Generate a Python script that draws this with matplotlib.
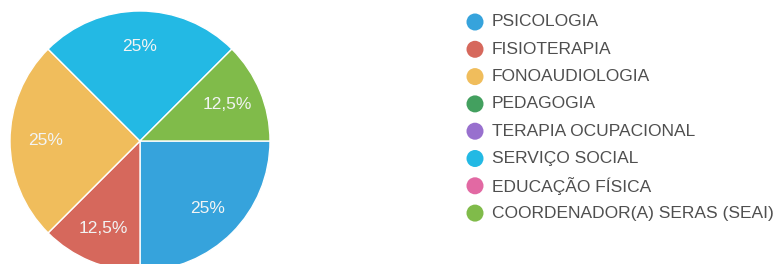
import matplotlib
matplotlib.use("Agg")
import matplotlib.pyplot as plt

plt.rcParams["font.family"] = ["Liberation Sans", "DejaVu Sans"]

labels = ["PSICOLOGIA", "FISIOTERAPIA", "FONOAUDIOLOGIA", "PEDAGOGIA",
          "TERAPIA OCUPACIONAL", "SERVIÇO SOCIAL", "EDUCAÇÃO FÍSICA",
          "COORDENADOR(A) SERAS (SEAI)"]
counts = [2, 1, 2, 0, 0, 2, 0, 1]
colors = ["#36a3dc", "#d6685c", "#f0bd5c", "#43a05f",
          "#9870ce", "#23b9e4", "#e269a3", "#80bb4a"]

W, H = 775, 264
fig = plt.figure(figsize=(W / 100, H / 100), dpi=100)

# pie axes: centre ~ (140, 141) px, radius ~130 px (runs off the bottom)
cx, cy, r = 140, 141, 130
ax = fig.add_axes([(cx - r) / W, (H - cy - r) / H, 2 * r / W, 2 * r / H])

nz = [i for i, c in enumerate(counts) if c > 0]
wedges, texts, autotexts = ax.pie(
    [counts[i] for i in nz], colors=[colors[i] for i in nz],
    startangle=0, counterclock=False, radius=1,
    autopct=lambda p: f"{p:.1f}".rstrip("0").rstrip(".").replace(".", ",") + "%",
    pctdistance=0.73,
    wedgeprops=dict(edgecolor="white", linewidth=1),
    textprops=dict(color="#f2f4f4", fontsize=12.5))
ax.set_xlim(-1, 1)
ax.set_ylim(-1, 1)
ax.axis("off")
for w in wedges:
    w.set_clip_on(False)

# legend drawn in pixel coordinates
lg = fig.add_axes([0, 0, 1, 1])
lg.set_xlim(0, W)
lg.set_ylim(H, 0)
lg.axis("off")
y0, dy = 22, 27.3
for i, (lab, col) in enumerate(zip(labels, colors)):
    y = y0 + i * dy
    lg.scatter([475], [y], s=150, color=col, edgecolors="none")
    lg.text(492, y, lab, va="center", ha="left", fontsize=12.5, color="#4f4f4f")

fig.savefig("out.png", dpi=100)
